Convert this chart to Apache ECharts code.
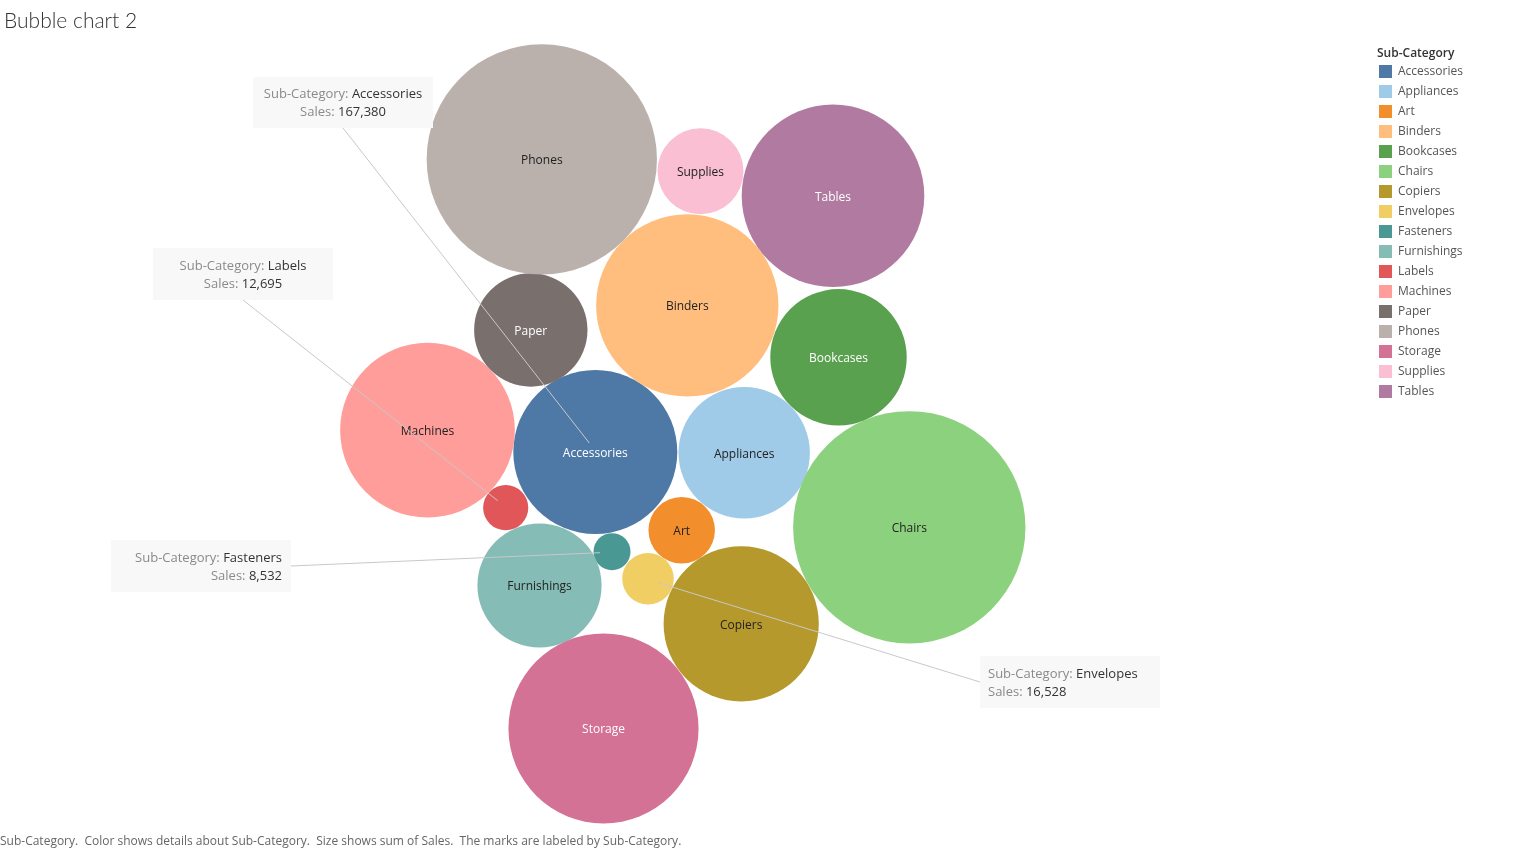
<!DOCTYPE html>
<html>
<head>
<meta charset="utf-8">
<script src="https://cdn.jsdelivr.net/npm/echarts@6/dist/echarts.min.js"></script>
<style>
html,body{margin:0;padding:0;background:#fff;}
#chart{width:1516px;height:849px;}
</style>
</head>
<body>
<div id="chart"></div>
<script>
// ---- data ----
const categories = ['Accessories','Appliances','Art','Binders','Bookcases','Chairs','Copiers','Envelopes','Fasteners','Furnishings','Labels','Machines','Paper','Phones','Storage','Supplies','Tables'];
const sales = [167380, 107532, 27500, 207000, 115900, 336000, 150000, 16528, 8532, 96000, 12695, 190000, 80000, 330007, 225000, 46000, 207500];

// ---- packed layout (bubble centres, layout units) ----
const layoutX = [595.3, 744.2, 681.7, 687.3, 838.5, 909.3, 741.2, 648.0, 612.0, 539.5, 505.7, 427.5, 530.8, 541.8, 603.5, 700.5, 833.0];
const layoutY = [452.0, 452.8, 530.3, 305.4, 357.3, 527.3, 623.8, 578.7, 551.7, 585.5, 507.7, 430.2, 330.0, 159.3, 728.5, 171.3, 195.8];

// ---- styles ----
const palette = ['#4e79a7','#a0cbe8','#f28e2b','#ffbe7d','#59a14f','#8cd17d','#b6992d','#f1ce63','#499894','#86bcb6','#e15759','#ff9d9a','#79706e','#bab0ac','#d37295','#fabfd2','#b07aa1'];
const labelColors = ['#fff','#222','#222','#222','#fff','#222','#222','#222','#fff','#222','#fff','#222','#fff','#222','#fff','#222','#fff'];
const showLabel = categories.map(c => !['Envelopes','Fasteners','Labels'].includes(c));
const radiusScale = 0.2004; // px per sqrt(sales)

const FONT = "'Open Sans', 'Noto Sans', sans-serif";

const series = categories.map((c, i) => ({
  name: c,
  type: 'scatter',
  data: [{ name: c, value: [layoutX[i], layoutY[i], sales[i]] }],
  symbol: 'circle',
  symbolSize: v => 2 * radiusScale * Math.sqrt(v[2]),
  itemStyle: { color: palette[i], opacity: 1 },
  label: {
    show: showLabel[i],
    position: 'inside',
    formatter: '{b}',
    color: labelColors[i],
    fontSize: 12,
    fontFamily: FONT,
    offset: [0, 1.5]
  },
  emphasis: { disabled: true },
  z: 2
}));

const chart = echarts.init(document.getElementById('chart'));
chart.setOption({
  animation: false,
  color: palette,
  title: [
    { text: 'Bubble chart 2', left: 4, top: 11, padding: 0,
      textStyle: { fontSize: 21, fontWeight: 300, color: '#333', fontFamily: "Lato, 'Open Sans', sans-serif" } },
    { text: 'Sub-Category.  Color shows details about Sub-Category.  Size shows sum of Sales.  The marks are labeled by Sub-Category.',
      left: 0, top: 836, padding: 0,
      textStyle: { fontSize: 12, fontWeight: 'normal', color: '#666', fontFamily: FONT } },
    { text: 'Sub-Category', left: 1377, top: 48, padding: 0,
      textStyle: { fontSize: 12, fontWeight: 600, color: '#333', fontFamily: FONT } }
  ],
  legend: {
    orient: 'vertical',
    left: 1379, top: 65,
    itemWidth: 13, itemHeight: 13, itemGap: 7,
    icon: 'rect',
    padding: 0,
    selectedMode: false,
    textStyle: { fontSize: 12, color: '#555', fontFamily: FONT, padding: [0,0,0,1] },
    data: categories
  },
  grid: { left: 0, right: 0, top: 0, bottom: 0 },
  xAxis: { type: 'value', min: 0, max: 1516, show: false },
  yAxis: { type: 'value', min: 0, max: 849, inverse: true, show: false },
  series: series
});

// ---- annotations ----
const annotations = [
  { cat: 'Accessories', box: [253, 77, 180, 51], align: 'center', from: 'bottom', off: [-6, -9] },
  { cat: 'Labels',      box: [153, 248, 180, 52], align: 'center', from: 'bottom', off: [-8, -7] },
  { cat: 'Fasteners',   box: [111, 540, 180, 52], align: 'right',  from: 'right',  off: [-12, 1] },
  { cat: 'Envelopes',   box: [980, 656, 180, 52], align: 'left',   from: 'left',   off: [10, 4] }
];
const fmt = n => n.toLocaleString('en-US');
const graphics = [];
annotations.forEach(a => {
  const i = categories.indexOf(a.cat);
  const c = chart.convertToPixel({ gridIndex: 0 }, [layoutX[i], layoutY[i]]);
  const anchor = [c[0] + a.off[0], c[1] + a.off[1]];
  const [bx, by, bw, bh] = a.box;
  let start;
  if (a.from === 'bottom') start = [bx + bw / 2, by + bh];
  else if (a.from === 'right') start = [bx + bw, by + bh / 2];
  else start = [bx, by + bh / 2];
  graphics.push({
    type: 'line', z: 100,
    shape: { x1: start[0], y1: start[1], x2: anchor[0], y2: anchor[1] },
    style: { stroke: '#c8c8c8', lineWidth: 1 }
  });
  graphics.push({
    type: 'rect', z: 101,
    shape: { x: bx, y: by, width: bw, height: bh },
    style: { fill: '#f8f8f8' }
  });
  let tx;
  if (a.align === 'center') tx = bx + bw / 2;
  else if (a.align === 'right') tx = bx + bw - 9;
  else tx = bx + 8;
  graphics.push({
    type: 'text', z: 102,
    x: tx, y: by + bh / 2 + 1,
    style: {
      text: '{l|Sub-Category: }{v|' + a.cat + '}\n{l|Sales: }{v|' + fmt(sales[i]) + '}',
      align: a.align, verticalAlign: 'middle',
      rich: {
        l: { fontSize: 13, fill: '#8a8a8a', fontFamily: FONT, lineHeight: 18 },
        v: { fontSize: 13, fill: '#333', fontFamily: FONT, fontWeight: 500, lineHeight: 18 }
      }
    }
  });
});
chart.setOption({ graphic: graphics });
</script>
</body>
</html>
